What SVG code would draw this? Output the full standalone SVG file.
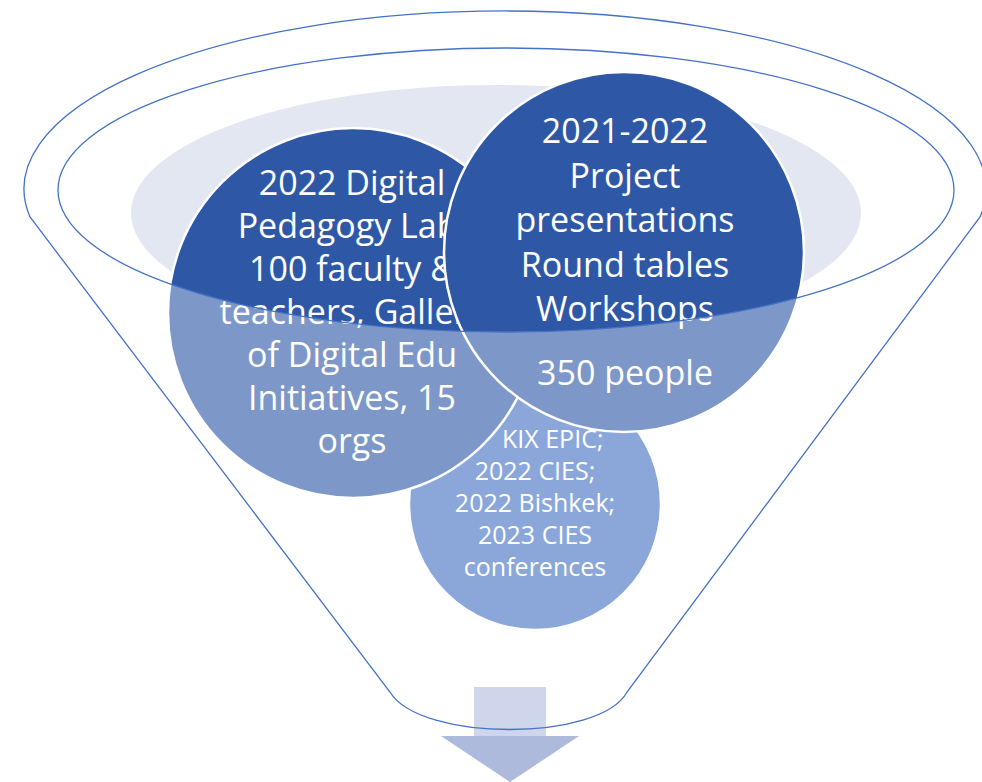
<svg xmlns="http://www.w3.org/2000/svg" width="982" height="782" viewBox="0 0 982 782">
<style>
.rim{fill:none;stroke:#4472C4;stroke-width:1.3}
.c{stroke:#FFFFFF;stroke-width:2.5}
.t{font-family:"Open Sans","Noto Sans","DejaVu Sans",sans-serif;fill:#FFFFFF;text-anchor:middle}
.big{font-size:34px}
.small{font-size:25px}
</style>
<rect width="982" height="782" fill="#FFFFFF"/>
<g id="bowl">
<ellipse cx="496" cy="213" rx="365" ry="128" fill="#E3E7F2"/>
</g>
<g id="node3">
<circle cx="535" cy="504" r="126" fill="#4472C4" class="c"/>
<text class="t small"><tspan x="502" y="448" style="text-anchor:start">KIX EPIC;</tspan><tspan x="535" y="480">2022 CIES;</tspan><tspan x="535" y="512">2022 Bishkek;</tspan><tspan x="535" y="544">2023 CIES</tspan><tspan x="535" y="576">conferences</tspan></text>
</g>
<g id="node1">
<circle cx="353" cy="313" r="185" fill="#2E58A6" class="c"/>
<text class="t big"><tspan x="352" y="195">2022 Digital</tspan><tspan x="352" y="238">Pedagogy Lab,</tspan><tspan x="352" y="281">100 faculty &amp;</tspan><tspan x="352" y="324">teachers, Gallery</tspan><tspan x="352" y="367">of Digital Edu</tspan><tspan x="352" y="410">Initiatives, 15</tspan><tspan x="352" y="453">orgs</tspan></text>
</g>
<g id="node2">
<circle cx="624" cy="252" r="180" fill="#2E58A6" class="c"/>
<text class="t big"><tspan x="625" y="143">2021-2022</tspan><tspan x="625" y="188">Project</tspan><tspan x="625" y="232">presentations</tspan><tspan x="625" y="277">Round tables</tspan><tspan x="625" y="321">Workshops</tspan><tspan x="625" y="385">350 people</tspan></text>
</g>
<g id="funnel">
<path d="M30,217 A481,178 0 1 1 980,217 L627,692 C600,742 420,742 390,692 Z M58,190 A448,142 0 1 0 954,190 A448,142 0 1 0 58,190 Z" fill="#FFFFFF" fill-opacity="0.38" fill-rule="evenodd"/>
</g>
<g id="arrow">
<rect x="474" y="687" width="72" height="49" fill="#CFD5EA"/>
<polygon points="441,736 579,736 510,782" fill="#ADBADC"/>
</g>
<g id="funnel-outline">
<path class="rim" d="M30,217 A481,178 0 1 1 980,217 L627,692 C600,742 420,742 390,692 Z"/>
<ellipse class="rim" cx="506" cy="190" rx="448" ry="142"/>
</g>
</svg>
